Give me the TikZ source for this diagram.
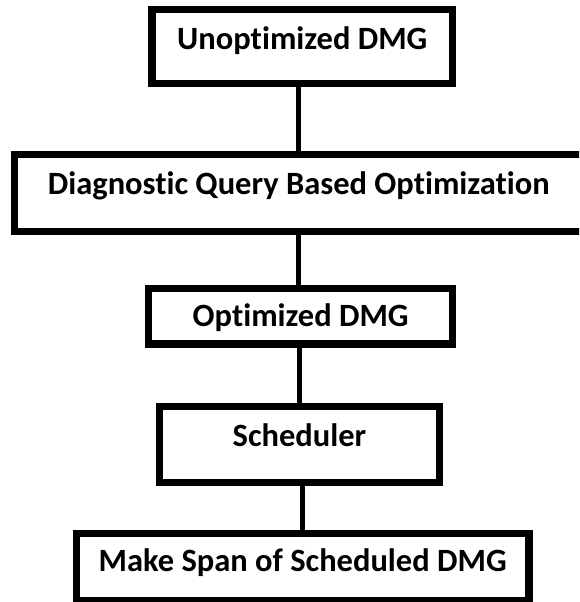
\documentclass[tikz,border=0pt]{standalone}
\usepackage{fontspec}
\setmainfont{Carlito}[Ligatures=NoCommon]
\begin{document}
\begin{tikzpicture}[x=1pt,y=-1pt,
  stagebox/.style={draw=black, line width=7.4pt, inner xsep=0pt, inner ysep=0pt,
    font=\bfseries\fontsize{32.5}{39}\selectfont, text=black, anchor=center},
  link/.style={draw=black, line width=5pt}]
\useasboundingbox (0,0) rectangle (579,602);
\clip (0,0) rectangle (579,602);
% process stages, top to bottom
\node[stagebox, minimum width=300.3pt, text height=39.6pt, text depth=34.4pt]
  (u) at (302.3,46.7) {Unoptimized DMG};
\node[stagebox, minimum width=569pt, text height=40pt, text depth=37pt]
  (d) at (298.8,192.8) {Diagnostic Query Based Optimization};
\node[stagebox, minimum width=304pt, text height=38pt, text depth=17.3pt]
  (o) at (300.7,316.35) {Optimized DMG};
\node[stagebox, minimum width=280.4pt, text height=40.4pt, text depth=35.6pt]
  (s) at (299.5,444.3) {Scheduler};
\node[stagebox, minimum width=452.8pt, text height=37.7pt, text depth=29.3pt]
  (m) at (302.7,566.8) {Make Span of Scheduled DMG};
% connectors between stages
\draw[link] (u.south -| d.north) -- (d.north);
\draw[link] (d.south) -- (d.south |- o.north);
\draw[link] (s.north |- o.south) -- (s.north);
\draw[link] (m.north |- s.south) -- (m.north);
\end{tikzpicture}
\end{document}
